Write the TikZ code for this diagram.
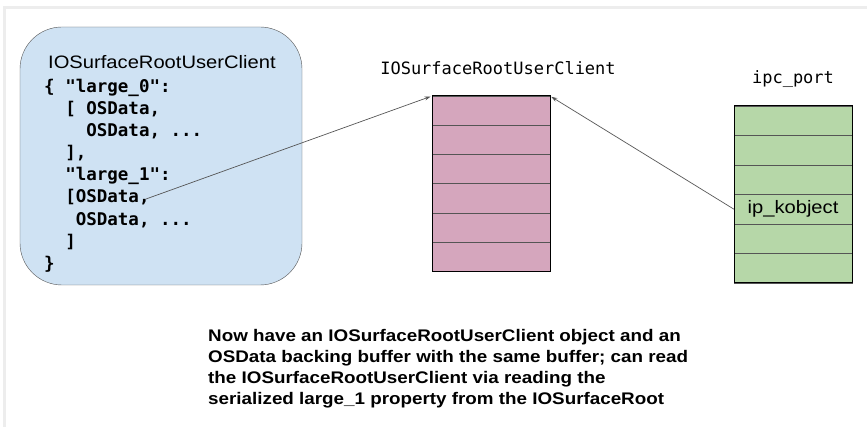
\documentclass[tikz,border=0pt]{standalone}
\usepackage{fontspec}
\setmainfont{Liberation Sans}[FakeStretch=1.12]
\setmonofont{DejaVu Sans Mono}
\usepackage{tikz}
\usetikzlibrary{
    arrows.meta,
    calc,
    positioning
}
\definecolor{boxblue}{HTML}{CFE2F3}
\definecolor{cellpink}{HTML}{D5A6BD}
\definecolor{cellgreen}{HTML}{B6D7A8}
\definecolor{edgegray}{HTML}{555555}
\tikzset{
    cellp/.style={draw=edgegray, fill=cellpink, minimum width=118pt, minimum height=29.2pt, inner sep=0pt, outer sep=0pt},
    cellg/.style={draw=edgegray, fill=cellgreen, minimum width=118pt, minimum height=29.5pt, inner sep=0pt, outer sep=0pt},
    ttlbl/.style={font=\ttfamily\fontsize{17}{20}\selectfont, inner sep=0pt},
    ptr/.style={draw=edgegray, line width=0.7pt, -{Stealth[length=6pt,width=4pt]}, shorten >=1.5pt}
}

\begin{document}
\begin{tikzpicture}[x=1pt, y=-1pt]
    \useasboundingbox (0,0) rectangle (867,427);
    \draw[black!7, line width=3pt] (4,427) -- (4,8) -- (867,8);

    % user client dictionary
    \draw[edgegray, fill=boxblue, rounded corners=42pt] (20,27) rectangle (302,285);
    \node[anchor=west, inner sep=0pt, font=\fontsize{18}{22}\selectfont] (uctitle) at (48,62) {IOSurfaceRootUserClient};
    \node[anchor=north west, inner sep=0pt, align=left, font=\ttfamily\bfseries\fontsize{17.5}{22.1}\selectfont] (uccode) at (44,79)
        {\{ "large\_0":\\
         ~~[ OSData,\\
         ~~~~OSData, ...\\
         ~~],\\
         ~~"large\_1":\\
         ~~[OSData,\\
         ~~~OSData, ...\\
         ~~]\\
         \}};
    \coordinate (osd) at (146,199);

    % kernel object
    \node[ttlbl] (pktitle) at (498,68) {IOSurfaceRootUserClient};
    \foreach \i in {1,...,6}
        \node[cellp] (pk\i) at (491, {81.4+29.2*\i}) {};
    \draw[black, line width=1pt] (pk1.north west) rectangle (pk6.south east);

    % port
    \node[ttlbl] (gctitle) at (793,79) {ipc\_port};
    \foreach \i in {1,...,6}
        \node[cellg] (gc\i) at (793, {91.25+29.5*\i}) {};
    \draw[black, line width=1pt] (gc1.north west) rectangle (gc6.south east);
    \node[inner sep=0pt, font=\fontsize{18}{22}\selectfont] (kobj) at (gc4) {ip\_kobject};

    \draw[ptr] (osd) -- (pk1.north west);
    \draw[ptr] (gc4.west) -- (pk1.north east);

    \node[anchor=north west, inner sep=0pt, align=left, font=\bfseries\fontsize{16.8}{21}\selectfont] (note) at (208,329)
        {Now have an IOSurfaceRootUserClient object and an\\
         OSData backing buffer with the same buffer; can read\\
         the IOSurfaceRootUserClient via reading the\\
         serialized large\_1 property from the IOSurfaceRoot};
\end{tikzpicture}
\end{document}
